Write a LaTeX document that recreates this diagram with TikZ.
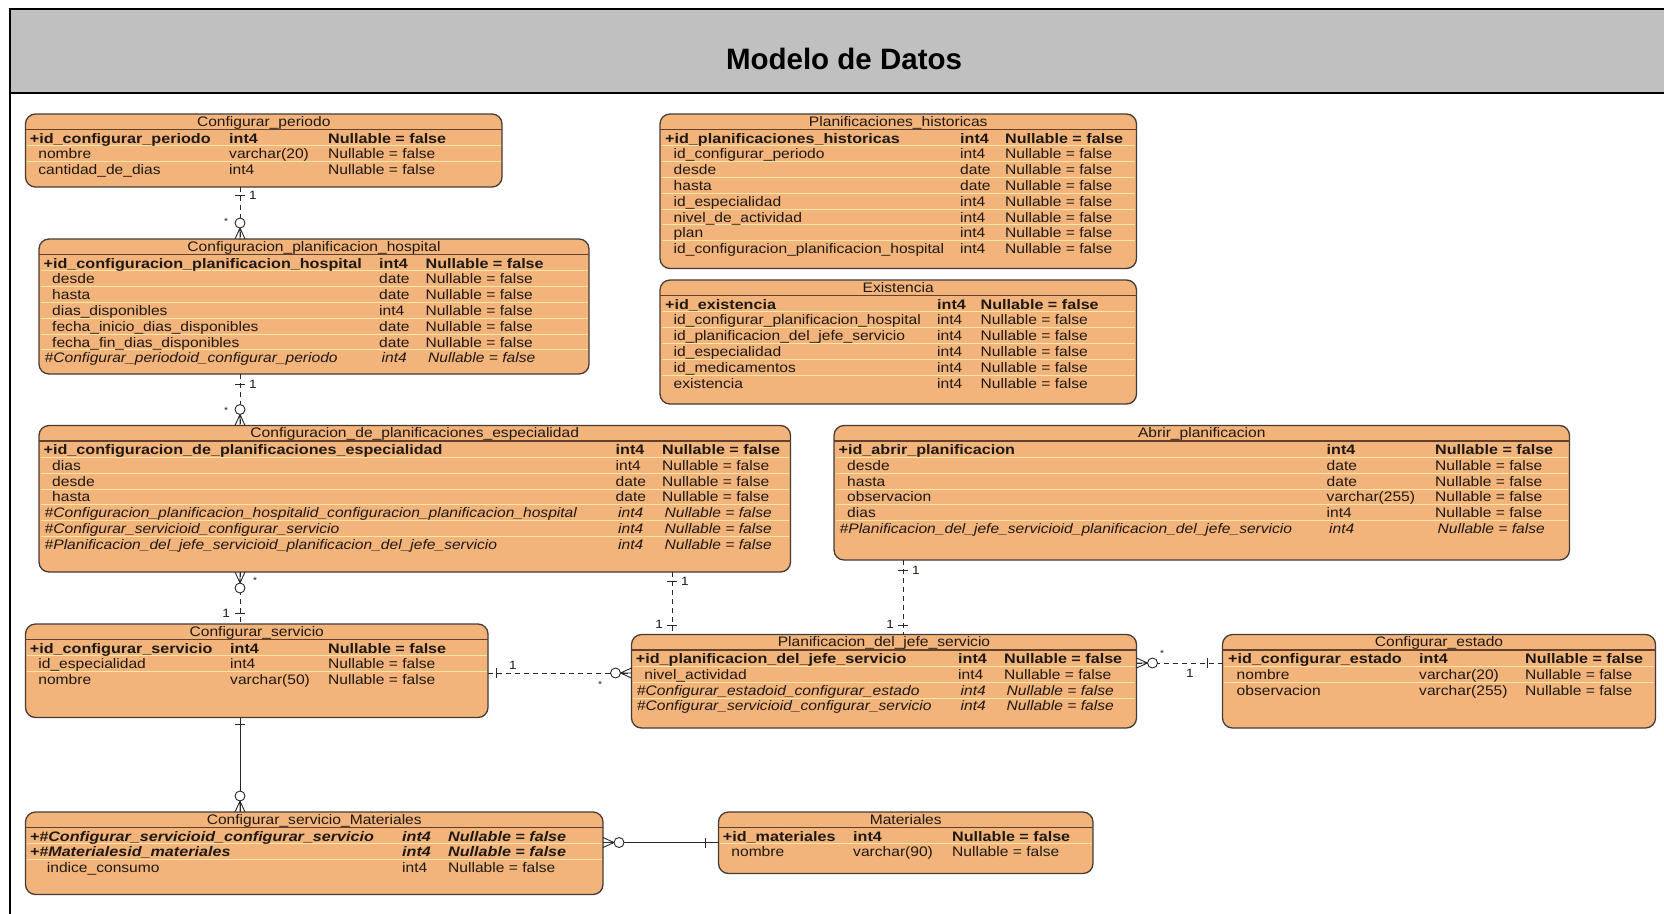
\documentclass[tikz,border=0pt]{standalone}
\usepackage{fontspec}
\setmainfont{Liberation Sans}
\newfontfamily\erfont[FakeStretch=1.13,BoldFeatures={FakeStretch=1.17},BoldItalicFeatures={FakeStretch=1.17}]{Liberation Sans}
\usetikzlibrary{calc}

\definecolor{tblfill}{RGB}{243,180,123}
\definecolor{tblborder}{RGB}{70,60,55}
\definecolor{titlesepc}{RGB}{95,65,45}
\definecolor{rowsepc}{RGB}{255,232,165}
\definecolor{txt}{RGB}{30,25,20}
\definecolor{headfill}{RGB}{192,192,192}
\definecolor{linkc}{RGB}{40,40,40}

\newcommand\ersize{\fontsize{13.8}{16}\selectfont}

\tikzset{
  tbl/.style={draw=tblborder, line width=1.3pt, fill=tblfill, rounded corners=10pt,
    inner sep=0pt, outer sep=0pt, anchor=north west},
  ttl/.style={anchor=base, inner sep=0pt, text=txt, font=\erfont\ersize},
  cell/.style={anchor=base west, inner sep=0pt, text=txt, font=\erfont\ersize},
  keycell/.style={cell, font=\erfont\ersize\bfseries},
  fkcell/.style={cell, font=\erfont\ersize\itshape},
  pkfkcell/.style={cell, font=\erfont\ersize\bfseries\itshape},
  titlesep/.style={draw=titlesepc, line width=1.2pt},
  rowsep/.style={draw=rowsepc, line width=1pt},
  link/.style={draw=linkc, line width=0.9pt, dash pattern=on 5pt off 4pt},
  solidlink/.style={draw=linkc, line width=0.9pt},
  marker/.style={draw=linkc, line width=0.9pt},
  lbl/.style={inner sep=0pt, text=txt, font=\erfont\fontsize{12}{12}\selectfont},
  starlbl/.style={inner sep=0pt, text=txt, font=\erfont\fontsize{9}{9}\selectfont},
  frame/.style={draw=black, line width=2pt},
  pics/zeromany/.style={code={
    \draw[marker] (-11,0) -- (0,-5) (-11,0) -- (0,0) (-11,0) -- (0,5);
    \draw[marker, fill=white] (-16,0) circle[radius=5];
  }},
  pics/onebar/.style={code={\draw[marker] (-#1,-5) -- (-#1,5);}},
}

% table box: name, left, top, right, bottom, title, number of rows
\newcommand\ertable[7]{%
  \node[tbl, minimum width={#4-(#2)}, minimum height={#5-(#3)}] (#1) at (#2,#3) {};
  \node[ttl] (#1-title) at ({(#2+#4)/2},{#3+12}) {#6};
  \draw[titlesep] (#2,{#3+15.5}) -- (#4,{#3+15.5});
  \pgfmathtruncatemacro\nsep{#7-1}%
  \foreach \k in {1,...,\nsep}
    \draw[rowsep] ({#2+1.5},{#3+31.9+15.8*(\k-1)}) -- ({#4-1.5},{#3+31.9+15.8*(\k-1)});
  \def\curtbl{#1}\def\ctop{#3}%
}
% column positions of the current table
\newcommand\setcols[3]{\def\cA{#1}\def\cB{#2}\def\cC{#3}}
\newcommand\rowy[1]{{\ctop+29+15.8*(#1-1)}}
\newcommand\keyrow[3]{%
  \node[keycell] (\curtbl-#1a) at (\cA,\rowy{#1}) {#2};
  \node[keycell] (\curtbl-#1b) at (\cB,\rowy{#1}) {#3};
  \node[keycell] (\curtbl-#1c) at (\cC,\rowy{#1}) {Nullable = false};}
\newcommand\plainrow[3]{%
  \node[cell] (\curtbl-#1a) at ({\cA+8.5},\rowy{#1}) {#2};
  \node[cell] (\curtbl-#1b) at (\cB,\rowy{#1}) {#3};
  \node[cell] (\curtbl-#1c) at (\cC,\rowy{#1}) {Nullable = false};}
\newcommand\fkrow[3]{%
  \node[fkcell] (\curtbl-#1a) at ({\cA+1},\rowy{#1}) {#2};
  \node[fkcell] (\curtbl-#1b) at ({\cB+2.5},\rowy{#1}) {#3};
  \node[fkcell] (\curtbl-#1c) at ({\cC+2.5},\rowy{#1}) {Nullable = false};}

\begin{document}
\begin{tikzpicture}[x=1pt, y=-1pt]
\useasboundingbox (0,0) rectangle (1664,913);
\clip (0,0) rectangle (1664,913);
\fill[white] (0,0) rectangle (1664,913);

% page frame with grey heading band
\fill[headfill] (9.5,8.5) rectangle (1690,93);
\draw[frame] (1690,8.5) -- (9.5,8.5) -- (9.5,940);
\draw[frame] (9.5,93) -- (1690,93);
\node[anchor=base, inner sep=0pt, font=\fontsize{29.5}{32}\selectfont\bfseries] (heading) at (844,69) {Modelo de Datos};

% ---------- tables ----------
\ertable{cp}{25.5}{114}{502}{187}{Configurar\_periodo}{3}
\setcols{29.7}{229}{328}
\keyrow{1}{+id\_configurar\_periodo}{int4}
\plainrow{2}{nombre}{varchar(20)}
\plainrow{3}{cantidad\_de\_dias}{int4}

\ertable{cph}{39}{239}{589}{374}{Configuracion\_planificacion\_hospital}{7}
\setcols{43.5}{379}{425.5}
\keyrow{1}{+id\_configuracion\_planificacion\_hospital}{int4}
\plainrow{2}{desde}{date}
\plainrow{3}{hasta}{date}
\plainrow{4}{dias\_disponibles}{int4}
\plainrow{5}{fecha\_inicio\_dias\_disponibles}{date}
\plainrow{6}{fecha\_fin\_dias\_disponibles}{date}
\fkrow{7}{\#Configurar\_periodoid\_configurar\_periodo}{int4}

\ertable{ph}{660}{114}{1136.5}{268.5}{Planificaciones\_historicas}{8}
\setcols{665}{960}{1005}
\keyrow{1}{+id\_planificaciones\_historicas}{int4}
\plainrow{2}{id\_configurar\_periodo}{int4}
\plainrow{3}{desde}{date}
\plainrow{4}{hasta}{date}
\plainrow{5}{id\_especialidad}{int4}
\plainrow{6}{nivel\_de\_actividad}{int4}
\plainrow{7}{plan}{int4}
\plainrow{8}{id\_configuracion\_planificacion\_hospital}{int4}

\ertable{ex}{660}{280}{1136.5}{404}{Existencia}{6}
\setcols{665}{937}{980.5}
\keyrow{1}{+id\_existencia}{int4}
\plainrow{2}{id\_configurar\_planificacion\_hospital}{int4}
\plainrow{3}{id\_planificacion\_del\_jefe\_servicio}{int4}
\plainrow{4}{id\_especialidad}{int4}
\plainrow{5}{id\_medicamentos}{int4}
\plainrow{6}{existencia}{int4}

\ertable{cdpe}{39}{425.5}{790.5}{572}{Configuracion\_de\_planificaciones\_especialidad}{7}
\setcols{43.5}{615.5}{662}
\keyrow{1}{+id\_configuracion\_de\_planificaciones\_especialidad}{int4}
\plainrow{2}{dias}{int4}
\plainrow{3}{desde}{date}
\plainrow{4}{hasta}{date}
\fkrow{5}{\#Configuracion\_planificacion\_hospitalid\_configuracion\_planificacion\_hospital}{int4}
\fkrow{6}{\#Configurar\_servicioid\_configurar\_servicio}{int4}
\fkrow{7}{\#Planificacion\_del\_jefe\_servicioid\_planificacion\_del\_jefe\_servicio}{int4}

\ertable{ap}{834}{425.5}{1569.5}{560}{Abrir\_planificacion}{6}
\setcols{838.5}{1326.5}{1435}
\keyrow{1}{+id\_abrir\_planificacion}{int4}
\plainrow{2}{desde}{date}
\plainrow{3}{hasta}{date}
\plainrow{4}{observacion}{varchar(255)}
\plainrow{5}{dias}{int4}
\fkrow{6}{\#Planificacion\_del\_jefe\_servicioid\_planificacion\_del\_jefe\_servicio}{int4}

\ertable{cs}{25.5}{624}{488}{717.5}{Configurar\_servicio}{3}
\setcols{29.7}{230}{328}
\keyrow{1}{+id\_configurar\_servicio}{int4}
\plainrow{2}{id\_especialidad}{int4}
\plainrow{3}{nombre}{varchar(50)}

\ertable{pjs}{631.5}{634.5}{1136.5}{728}{Planificacion\_del\_jefe\_servicio}{4}
\setcols{635.7}{958}{1004}
\keyrow{1}{+id\_planificacion\_del\_jefe\_servicio}{int4}
\plainrow{2}{nivel\_actividad}{int4}
\fkrow{3}{\#Configurar\_estadoid\_configurar\_estado}{int4}
\fkrow{4}{\#Configurar\_servicioid\_configurar\_servicio}{int4}

\ertable{ce}{1222.5}{634.5}{1655.5}{728}{Configurar\_estado}{3}
\setcols{1228}{1419}{1525}
\keyrow{1}{+id\_configurar\_estado}{int4}
\plainrow{2}{nombre}{varchar(20)}
\plainrow{3}{observacion}{varchar(255)}

\ertable{csm}{25.5}{812}{603}{894.5}{Configurar\_servicio\_Materiales}{3}
\setcols{29.7}{402}{448}
\node[pkfkcell] (csm-1a) at (\cA,\rowy{1}) {+\#Configurar\_servicioid\_configurar\_servicio};
\node[pkfkcell] (csm-1b) at (\cB,\rowy{1}) {int4};
\node[pkfkcell] (csm-1c) at (\cC,\rowy{1}) {Nullable = false};
\node[pkfkcell] (csm-2a) at (\cA,\rowy{2}) {+\#Materialesid\_materiales};
\node[pkfkcell] (csm-2b) at (\cB,\rowy{2}) {int4};
\node[pkfkcell] (csm-2c) at (\cC,\rowy{2}) {Nullable = false};
\node[cell] (csm-3a) at ({\cA+17},\rowy{3}) {indice\_consumo};
\node[cell] (csm-3b) at (\cB,\rowy{3}) {int4};
\node[cell] (csm-3c) at (\cC,\rowy{3}) {Nullable = false};

\ertable{mat}{718.5}{812}{1093}{873.5}{Materiales}{2}
\setcols{722.7}{853}{952}
\keyrow{1}{+id\_materiales}{int4}
\plainrow{2}{nombre}{varchar(90)}

% ---------- relationships ----------
\coordinate (xA) at (240,0);
\coordinate (xB) at (672,0);
\coordinate (xC) at (903,0);
\coordinate (yS) at (0,673);
\coordinate (yE) at (0,663);
\coordinate (yM) at (0,842.5);

\draw[link] (cp.south -| xA) -- (cph.north -| xA);
\draw[link] (cph.south -| xA) -- (cdpe.north -| xA);
\draw[link] (cdpe.south -| xA) -- (cs.north -| xA);
\draw[link] (cdpe.south -| xB) -- (pjs.north -| xB);
\draw[link] (ap.south -| xC) -- (pjs.north -| xC);
\draw[link] (cs.east |- yS) -- (pjs.west |- yS);
\draw[link] (pjs.east |- yE) -- (ce.west |- yE);
\draw[solidlink] (cs.south -| xA) -- (csm.north -| xA);
\draw[solidlink] (csm.east |- yM) -- (mat.west |- yM);

% end markers
\pic[rotate=90] at (cp.south -| xA) {onebar=8};
\pic[rotate=-90] at (cph.north -| xA) {zeromany};
\pic[rotate=90] at (cph.south -| xA) {onebar=10};
\pic[rotate=-90] at (cdpe.north -| xA) {zeromany};
\pic[rotate=90] at (cdpe.south -| xA) {zeromany};
\pic[rotate=-90] at (cs.north -| xA) {onebar=11};
\pic[rotate=90] at (cdpe.south -| xB) {onebar=9.5};
\pic[rotate=-90] at (pjs.north -| xB) {onebar=9.5};
\pic[rotate=90] at (ap.south -| xC) {onebar=10};
\pic[rotate=-90] at (pjs.north -| xC) {onebar=9.5};
\pic[rotate=180] at (cs.east |- yS) {onebar=8};
\pic at (pjs.west |- yS) {zeromany};
\pic[rotate=180] at (pjs.east |- yE) {zeromany};
\pic at (ce.west |- yE) {onebar=15};
\pic[rotate=90] at (cs.south -| xA) {onebar=6.5};
\pic[rotate=-90] at (csm.north -| xA) {zeromany};
\pic[rotate=180] at (csm.east |- yM) {zeromany};
\pic at (mat.west |- yM) {onebar=13.5};

% multiplicities
\node[lbl, anchor=west] (m1a) at (249,195) {1};
\node[starlbl] (m1b) at (226,221) {*};
\node[lbl, anchor=west] (m2a) at (249,384) {1};
\node[starlbl] (m2b) at (226,410) {*};
\node[starlbl] (m3a) at (255,580) {*};
\node[lbl, anchor=east] (m3b) at (230,613) {1};
\node[lbl, anchor=west] (m4a) at (681,581.5) {1};
\node[lbl, anchor=east] (m4b) at (663,624) {1};
\node[lbl, anchor=west] (m5a) at (912,570) {1};
\node[lbl, anchor=east] (m5b) at (894,624) {1};
\node[lbl] (m6a) at (513,665) {1};
\node[starlbl] (m6b) at (600,684) {*};
\node[starlbl] (m7a) at (1162,653) {*};
\node[lbl] (m7b) at (1190,673) {1};
\end{tikzpicture}
\end{document}
